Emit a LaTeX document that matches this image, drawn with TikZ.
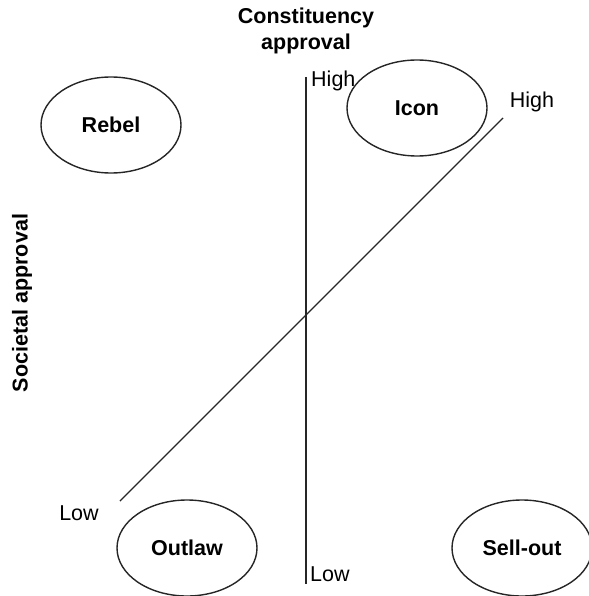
\documentclass[tikz,border=0pt]{standalone}
\usepackage{fontspec}
\setmainfont{Liberation Sans}
\usetikzlibrary{shapes.geometric}
\begin{document}
\begin{tikzpicture}[x=1pt,y=-1pt,
  role/.style={ellipse,draw=black!85,line width=1.4pt,minimum width=140pt,minimum height=96pt,inner sep=0pt,font=\fontsize{21.5}{25}\selectfont\bfseries},
  axislabel/.style={font=\fontsize{21.5}{25}\selectfont\bfseries,align=center,inner sep=0pt},
  tick/.style={font=\fontsize{21.5}{25}\selectfont,inner sep=0pt},
  axisline/.style={draw=black!85,line width=1.4pt}]
\useasboundingbox (0,0) rectangle (588,596);
\node[role] (rebel) at (111,125) {Rebel};
\node[role] (icon) at (417,108) {Icon};
\node[role] (outlaw) at (187,548) {Outlaw};
\node[role] (sellout) at (522,548) {Sell-out};
\coordinate (ctop) at (306,77);
\coordinate (cbot) at (306,584);
\coordinate (slow) at (120,501);
\coordinate (shigh) at (503,118);
\draw[axisline] (ctop) -- (cbot);
\draw[axisline] (slow) -- (shigh);
\node[axislabel] (ctitle) at (306,31) {Constituency\\[1pt]approval};
\node[axislabel,rotate=90] (stitle) at (22,303) {Societal approval};
\node[tick,anchor=west] (chigh) at (311,81) {High};
\node[tick,anchor=west] (clow) at (310,574) {Low};
\node[tick] (shighl) at (532,102) {High};
\node[tick] (slowl) at (79,513) {Low};
\end{tikzpicture}
\end{document}
